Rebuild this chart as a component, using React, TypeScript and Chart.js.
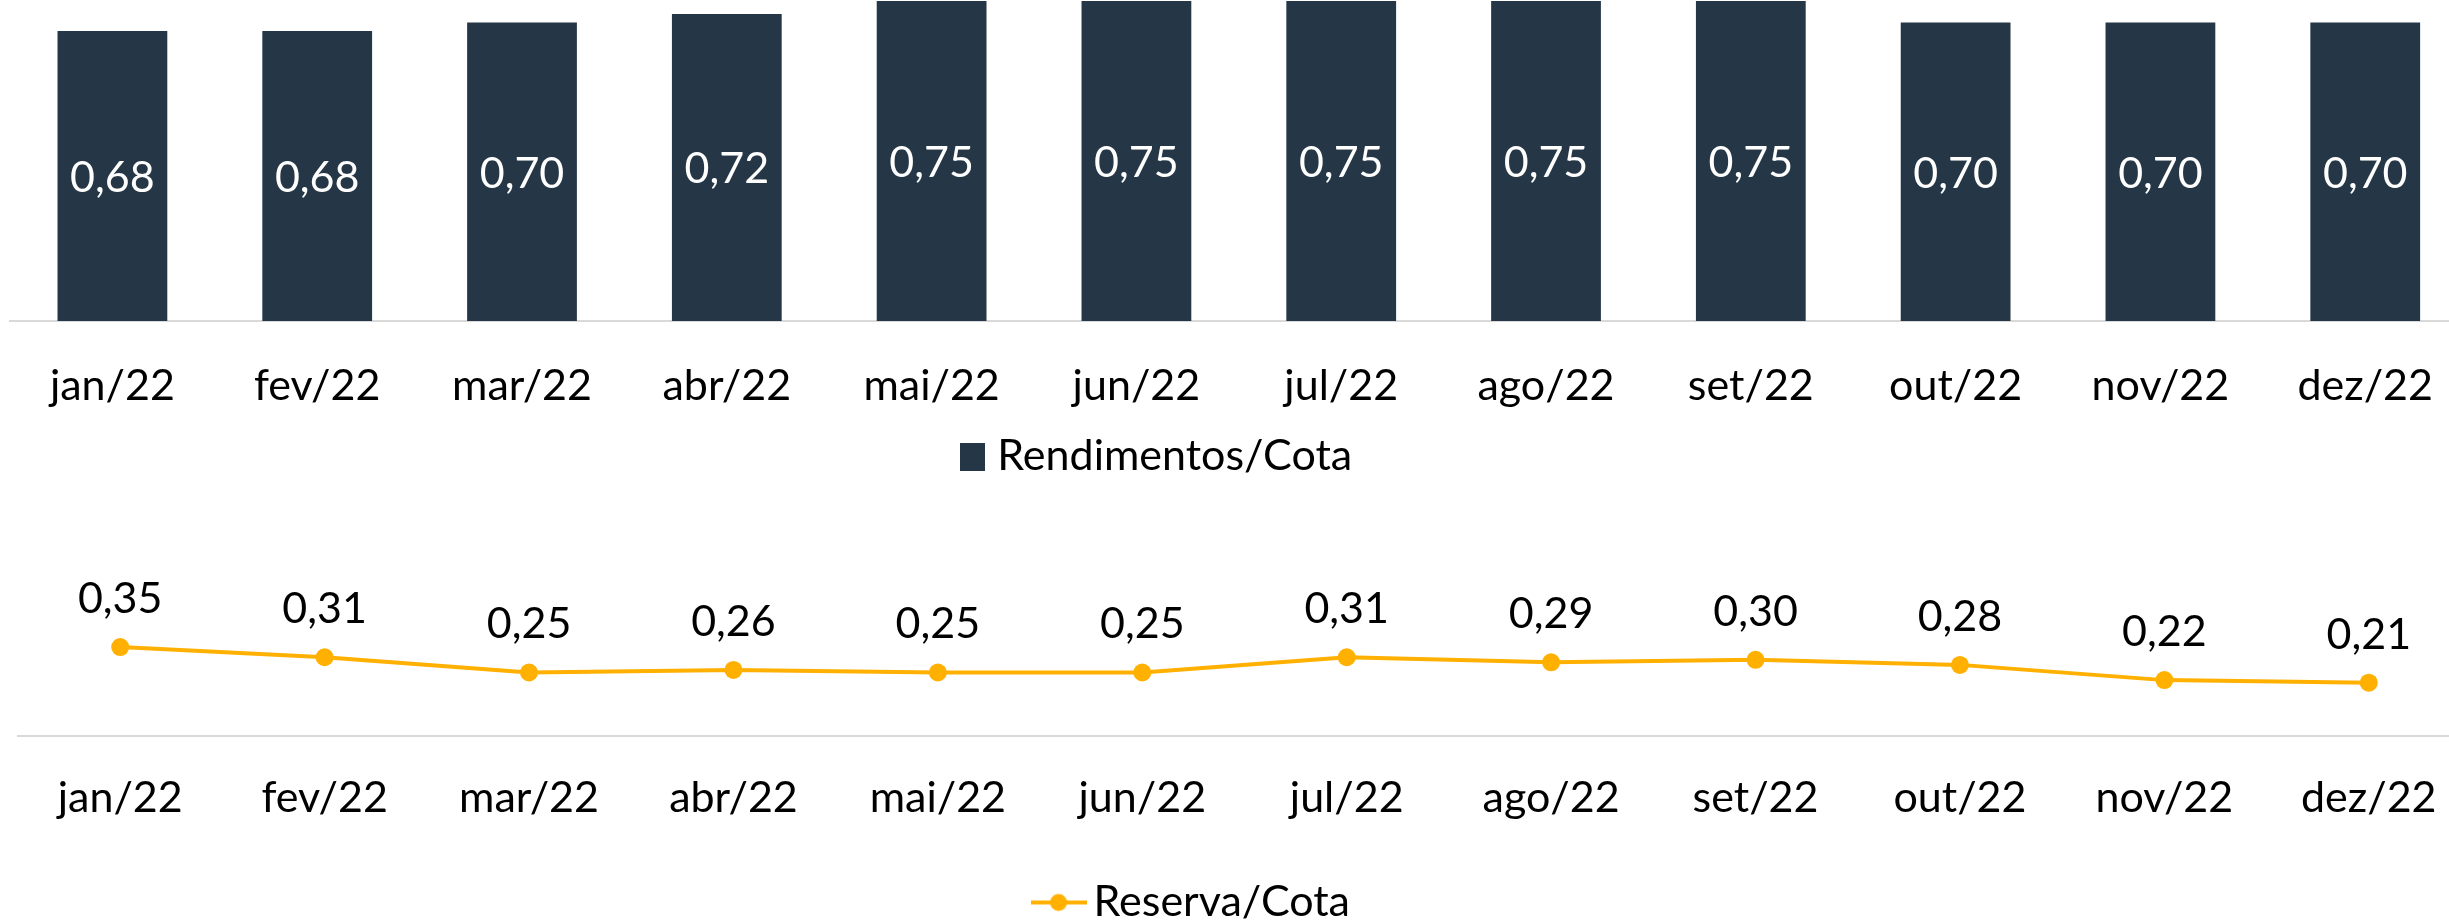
import React, { useEffect, useRef } from "react";
import { Chart, registerables } from "chart.js";

Chart.register(...registerables);

// ---- data ----
const months = ["jan/22", "fev/22", "mar/22", "abr/22", "mai/22", "jun/22", "jul/22", "ago/22", "set/22", "out/22", "nov/22", "dez/22"];
const rendimentos = [0.68, 0.68, 0.70, 0.72, 0.75, 0.75, 0.75, 0.75, 0.75, 0.70, 0.70, 0.70];
const reserva = [0.35, 0.31, 0.25, 0.26, 0.25, 0.25, 0.31, 0.29, 0.30, 0.28, 0.22, 0.21];
const barLabel = "Rendimentos/Cota";
const lineLabel = "Reserva/Cota";

// ---- styles ----
const BAR_COLOR = "#253746";
const LINE_COLOR = "#FFB000";
const AXIS_COLOR = "#d9d9d9";
const FONT = "Lato";
const FS = 43;

const fmt = (v: number) => v.toFixed(2).replace(".", ",");

function squareIcon() {
  const c = document.createElement("canvas");
  c.width = 25;
  c.height = 28;
  const ctx = c.getContext("2d")!;
  ctx.fillStyle = BAR_COLOR;
  ctx.fillRect(0, 0, 25, 28);
  return c;
}

function lineIcon() {
  const c = document.createElement("canvas");
  c.width = 56;
  c.height = 20;
  const ctx = c.getContext("2d")!;
  ctx.strokeStyle = LINE_COLOR;
  ctx.lineWidth = 4;
  ctx.beginPath();
  ctx.moveTo(0, 10);
  ctx.lineTo(56, 10);
  ctx.stroke();
  ctx.fillStyle = LINE_COLOR;
  ctx.beginPath();
  ctx.arc(28, 10, 8.5, 0, Math.PI * 2);
  ctx.fill();
  return c;
}

const valueLabels = {
  id: "valueLabels",
  afterDatasetsDraw(chart: any) {
    const { ctx } = chart;
    chart.data.datasets.forEach((ds: any, di: number) => {
      const meta = chart.getDatasetMeta(di);
      meta.data.forEach((el: any, i: number) => {
        const v = ds.data[i];
        ctx.save();
        ctx.font = `${FS}px ${FONT}`;
        ctx.textAlign = "center";
        ctx.textBaseline = "middle";
        if (meta.type === "bar") {
          ctx.fillStyle = "#ffffff";
          ctx.fillText(fmt(v), el.x, (el.y + el.base) / 2 + 2);
        } else {
          ctx.fillStyle = "#000000";
          ctx.fillText(fmt(v), el.x, el.y - 48);
        }
        ctx.restore();
      });
    });
  },
};

// x axis: labels centred ~62px below the axis line, axis box height fixed
function xAxis(height: number, pad: number) {
  return {
    type: "category" as const,
    offset: true,
    grid: { display: false, drawTicks: false, tickLength: 0, offset: true },
    border: { display: true, color: AXIS_COLOR, width: 2 },
    ticks: {
      color: "#000",
      font: { family: FONT, size: FS },
      padding: pad,
      autoSkip: false,
      maxRotation: 0,
      minRotation: 0,
    },
    afterFit: (s: any) => {
      s.height = height;
    },
  };
}

function yAxis(min: number, max: number, width: number) {
  return {
    display: true,
    min,
    max,
    grid: { display: false, drawTicks: false },
    border: { display: false },
    ticks: { display: false },
    afterFit: (s: any) => {
      s.width = width;
    },
  };
}

function BarPanel() {
  const ref = useRef<HTMLCanvasElement>(null);
  useEffect(() => {
    const chart = new Chart(ref.current!, {
      type: "bar",
      data: {
        labels: months,
        datasets: [
          {
            label: barLabel,
            data: rendimentos,
            backgroundColor: BAR_COLOR,
            borderWidth: 0,
            categoryPercentage: 1,
            barPercentage: 0.536,
          },
        ],
      },
      options: {
        responsive: false,
        animation: false,
        layout: { padding: { top: 0, left: 0, right: 0, bottom: 0 } },
        scales: {
          x: xAxis(88, 39),
          y: yAxis(0, 0.7526, 161),
        },
        plugins: {
          tooltip: { enabled: false },
          legend: {
            position: "bottom",
            labels: {
              color: "#000",
              font: { family: FONT, size: FS },
              padding: 26,
              usePointStyle: true,
              pointStyleWidth: 7,
              generateLabels: () => [
                {
                  text: barLabel,
                  pointStyle: squareIcon(),
                  fillStyle: BAR_COLOR,
                  strokeStyle: BAR_COLOR,
                  lineWidth: 0,
                  datasetIndex: 0,
                  fontColor: "#000",
                } as any,
              ],
            },
          },
        },
      } as any,
      plugins: [valueLabels],
    });
    return () => chart.destroy();
  }, []);
  // chart area bottom = 488 - legend(43+26+10=79) - axis(88) = 321
  return (
    <canvas
      ref={ref}
      width={2623}
      height={488}
      style={{ position: "absolute", left: -151, top: 0, width: 2623, height: 488 }}
    />
  );
}

function LinePanel() {
  const ref = useRef<HTMLCanvasElement>(null);
  useEffect(() => {
    const chart = new Chart(ref.current!, {
      type: "line",
      data: {
        labels: months,
        datasets: [
          {
            label: lineLabel,
            data: reserva,
            borderColor: LINE_COLOR,
            backgroundColor: LINE_COLOR,
            borderWidth: 4,
            pointRadius: 9,
            pointBorderWidth: 0,
            pointBackgroundColor: LINE_COLOR,
            tension: 0,
            fill: false,
            clip: false,
          },
        ],
      },
      options: {
        responsive: false,
        animation: false,
        layout: { padding: { top: 81.7, left: 0, right: 0, bottom: 0 } },
        scales: {
          x: xAxis(88, 36),
          y: yAxis(0, 0.45, 103),
        },
        plugins: {
          tooltip: { enabled: false },
          legend: {
            position: "bottom",
            labels: {
              color: "#000",
              font: { family: FONT, size: FS },
              padding: 57,
              usePointStyle: true,
              pointStyleWidth: 27,
              generateLabels: () => [
                {
                  text: lineLabel,
                  pointStyle: lineIcon(),
                  fillStyle: LINE_COLOR,
                  strokeStyle: LINE_COLOR,
                  lineWidth: 0,
                  datasetIndex: 0,
                  fontColor: "#000",
                } as any,
              ],
            },
          },
        },
      } as any,
      plugins: [valueLabels],
    });
    return () => chart.destroy();
  }, []);
  // chart area bottom = 540 + 394 - legend(43+57+10=110) - axis(88) = 736
  return (
    <canvas
      ref={ref}
      width={2565}
      height={394}
      style={{ position: "absolute", left: -85, top: 540, width: 2565, height: 394 }}
    />
  );
}

export default function App() {
  return (
    <div
      style={{
        position: "fixed",
        left: 0,
        top: 0,
        width: 2449,
        height: 922,
        overflow: "hidden",
        background: "#ffffff",
      }}
    >
      <BarPanel />
      <LinePanel />
    </div>
  );
}
